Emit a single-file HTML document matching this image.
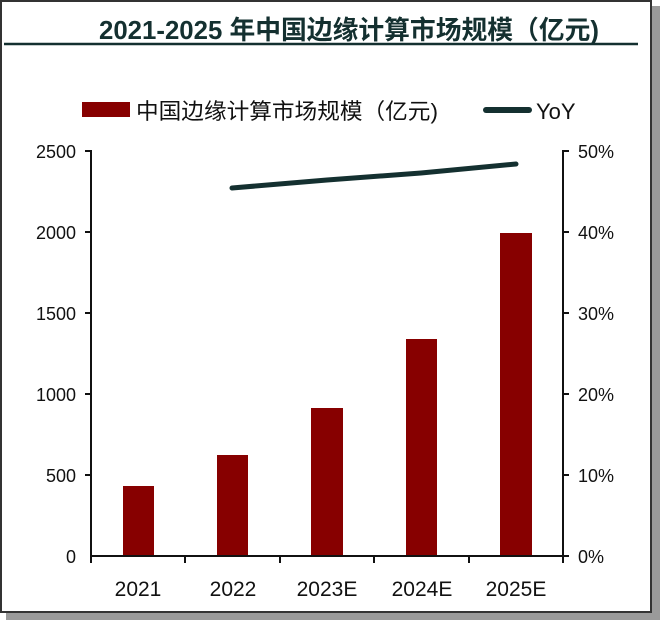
<!DOCTYPE html>
<html><head><meta charset="utf-8"><style>
body{margin:0;width:660px;height:620px;background:#fff;overflow:hidden}
</style></head><body>
<svg width="660" height="620" xmlns="http://www.w3.org/2000/svg" font-family="'Liberation Sans','Noto Sans CJK SC',sans-serif">
<rect x="6" y="6" width="654" height="614" fill="#9a9a9a"/>
<rect x="1" y="1" width="650" height="611" fill="#fff" stroke="#333" stroke-width="2"/>
<text x="349" y="39" text-anchor="middle" font-size="26" font-weight="bold" fill="#143030" textLength="500" lengthAdjust="spacingAndGlyphs">2021-2025 年中国边缘计算市场规模（亿元)</text>
<line x1="4" y1="44" x2="638" y2="44" stroke="#143030" stroke-width="2.5"/>
<rect x="82" y="102" width="48" height="15" fill="#870000"/>
<text x="136" y="119" font-size="22" fill="#111" textLength="302" lengthAdjust="spacingAndGlyphs">中国边缘计算市场规模（亿元)</text>
<line x1="486" y1="110" x2="529" y2="110" stroke="#143030" stroke-width="6" stroke-linecap="round"/>
<text x="536" y="119" font-size="22" fill="#111">YoY</text>
<g fill="#870000">
<rect x="123" y="486" width="31" height="70"/>
<rect x="217" y="455" width="31" height="101"/>
<rect x="311" y="408" width="32" height="148"/>
<rect x="406" y="339" width="31" height="217"/>
<rect x="500" y="233" width="32" height="323"/>
</g>
<g stroke="#111" stroke-width="2" fill="none">
<path d="M85 151H91V556H563V151H569"/>
<path d="M85 232H91M85 313H91M85 394H91M85 475H91M563 232H569M563 313H569M563 394H569M563 475H569M563 556H569"/>
<path d="M91 556V563M185 556V563M280 556V563M374 556V563M469 556V563M563 556V563"/>
</g>
<polyline points="232,188 327,180 421,173 516,164" fill="none" stroke="#143030" stroke-width="5" stroke-linecap="round"/>
<g font-size="18" fill="#111" text-anchor="end">
<text x="76" y="158">2500</text><text x="76" y="239">2000</text><text x="76" y="320">1500</text><text x="76" y="401">1000</text><text x="76" y="482">500</text><text x="76" y="563">0</text>
</g>
<g font-size="18" fill="#111">
<text x="578" y="158">50%</text><text x="578" y="239">40%</text><text x="578" y="320">30%</text><text x="578" y="401">20%</text><text x="578" y="482">10%</text><text x="578" y="563">0%</text>
</g>
<g font-size="21" fill="#111" text-anchor="middle">
<text x="138" y="596">2021</text><text x="233" y="596">2022</text><text x="327" y="596">2023E</text><text x="422" y="596">2024E</text><text x="516" y="596">2025E</text>
</g>
</svg>
</body></html>
